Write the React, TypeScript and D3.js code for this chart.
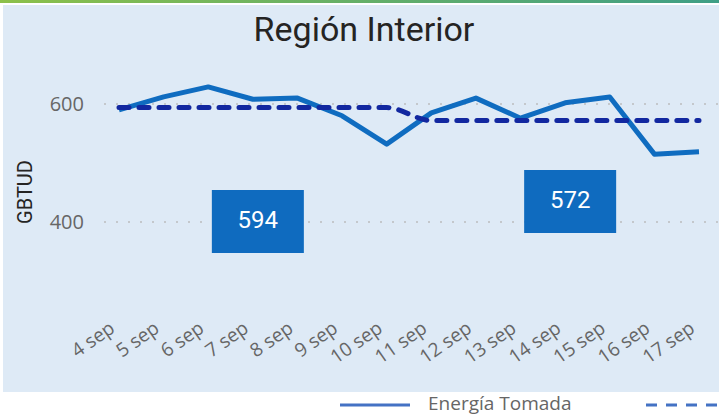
import * as d3 from 'd3';
import React, {useRef, useEffect} from 'react';

const days = ["4 sep", "5 sep", "6 sep", "7 sep", "8 sep", "9 sep", "10 sep",
  "11 sep", "12 sep", "13 sep", "14 sep", "15 sep", "16 sep", "17 sep"];
const energiaTomada = [590, 612, 629, 608, 610, 580, 532, 585, 610, 576, 602, 612, 515, 519];
const promedio = [594, 594, 594, 594, 594, 594, 594, 572, 572, 572, 572, 572, 572, 572];
const yTicks = [400, 600];
const boxValues = [594, 572];
const boxMid = ["7 sep", "14 sep"];

const W = 719;
const H = 416;

const App = () => {
  const ref = useRef<SVGSVGElement>(null);

  useEffect(() => {
    const svg = d3.select(ref.current);
    svg.selectAll("*").remove();

    const defs = svg.append("defs");
    const grad = defs.append("linearGradient").attr("id", "topbar");
    grad.append("stop").attr("offset", "0%").attr("stop-color", "#8cc04a");
    grad.append("stop").attr("offset", "100%").attr("stop-color", "#3f9f86");

    svg.append("rect").attr("x", 0).attr("y", 0).attr("width", W).attr("height", 3)
      .attr("fill", "url(#topbar)");

    // panel
    svg.append("rect").attr("x", 3).attr("y", 5).attr("width", W - 3).attr("height", 387)
      .attr("fill", "#deeaf6");

    svg.append("text")
      .attr("x", 364).attr("y", 41)
      .attr("text-anchor", "middle")
      .style("font-family", "Roboto")
      .style("font-size", "34px")
      .attr("fill", "#252423")
      .text("Región Interior");

    const x = d3.scalePoint<string>().domain(days).range([119, 699]);
    const y = d3.scaleLinear().domain([400, 600]).range([222, 104]);

    // gridlines
    svg.append("g").selectAll("line").data(yTicks).enter().append("line")
      .attr("x1", 104).attr("x2", W)
      .attr("y1", d => y(d)).attr("y2", d => y(d))
      .attr("stroke", "#c4c8cc").attr("stroke-width", 2)
      .attr("stroke-dasharray", "2 10");

    svg.append("g").selectAll("text").data(yTicks).enter().append("text")
      .attr("x", 84).attr("y", d => y(d) + 7)
      .attr("text-anchor", "end")
      .style("font-family", "Open Sans")
      .style("font-size", "20px")
      .attr("fill", "#666666")
      .text(d => d);

    svg.append("text")
      .attr("transform", "translate(32,192) rotate(-90)")
      .attr("text-anchor", "middle")
      .style("font-family", "Roboto")
      .style("font-size", "20px")
      .attr("fill", "#252423")
      .text("GBTUD");

    // x labels
    svg.append("g").selectAll("text").data(days).enter().append("text")
      .attr("transform", d => `translate(${(x(d) as number) - 3},331) rotate(-35)`)
      .attr("text-anchor", "end")
      .style("font-family", "Open Sans")
      .style("font-size", "19px")
      .attr("fill", "#666666")
      .text(d => d);

    const line = d3.line<number>()
      .x((_, i) => x(days[i]) as number)
      .y(d => y(d));

    svg.append("path")
      .attr("d", line(energiaTomada))
      .attr("fill", "none")
      .attr("stroke", "#0f6cc0")
      .attr("stroke-width", 5)
      .attr("stroke-linejoin", "round");

    const dashed = d3.line<number>()
      .x((_, i) => x(days[i]) as number)
      .y(d => y(d))
      .curve(d3.curveMonotoneX);

    svg.append("path")
      .attr("d", dashed(promedio))
      .attr("fill", "none")
      .attr("stroke", "#1228a0")
      .attr("stroke-width", 5)
      .attr("stroke-linecap", "round")
      .attr("stroke-dasharray", "10 10");

    // value boxes
    const boxTops = [190, 170];
    const box = svg.append("g").selectAll("g").data(boxValues).enter().append("g")
      .attr("transform", (d, i) => `translate(${(x(boxMid[i]) as number) + 5},${boxTops[i]})`);
    box.append("rect")
      .attr("x", -46).attr("y", 0).attr("width", 92).attr("height", 63)
      .attr("fill", "#0f6bbf");
    box.append("text")
      .attr("x", 0).attr("y", 38)
      .attr("text-anchor", "middle")
      .style("font-family", "Roboto")
      .style("font-size", "24px")
      .attr("fill", "#ffffff")
      .text(d => d);

    // legend
    const lg = svg.append("g");
    lg.append("line").attr("x1", 340).attr("x2", 410).attr("y1", 405).attr("y2", 405)
      .attr("stroke", "#4472c4").attr("stroke-width", 3);
    lg.append("text").attr("x", 428).attr("y", 410)
      .style("font-family", "Open Sans")
      .style("font-size", "19px")
      .attr("fill", "#666666")
      .text("Energía Tomada");
    lg.append("line").attr("x1", 646).attr("x2", W).attr("y1", 405).attr("y2", 405)
      .attr("stroke", "#4472c4").attr("stroke-width", 3)
      .attr("stroke-dasharray", "11 9");
  }, []);

  return (
    <svg ref={ref} width={W} height={H}
         style={{position: "absolute", left: 0, top: 0, background: "#ffffff"}}>
    </svg>
  );
};

export default App;
